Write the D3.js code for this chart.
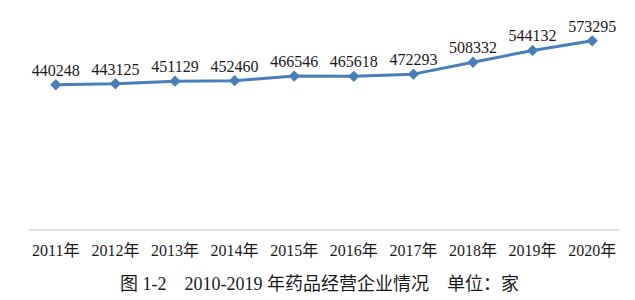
<!DOCTYPE html>
<html>
<head>
<meta charset="utf-8">
<script src="https://cdn.jsdelivr.net/npm/d3@7"></script>
<style>
  html, body { margin: 0; padding: 0; background: #fff; }
</style>
</head>
<body>
<div id="chart"></div>
<script>
// 数据
const years = ["2011年", "2012年", "2013年", "2014年", "2015年", "2016年", "2017年", "2018年", "2019年", "2020年"];
const counts = [440248, 443125, 451129, 452460, 466546, 465618, 472293, 508332, 544132, 573295];
const yDomain = [0, 700000];
const title = "图 1-2    2010-2019 年药品经营企业情况    单位：家";

const width = 635, height = 300;
const lineColor = "#4a7ebb";
const serif = "'Liberation Serif', 'Times New Roman', 'DejaVu Serif', 'Noto Sans CJK SC', serif";

const svg = d3.select("#chart").append("svg")
    .attr("width", width)
    .attr("height", height)
    .attr("font-family", serif)
    .attr("fill", "#1a1a1a");

const x = d3.scaleBand()
    .domain(years)
    .range([26, 622]);

const y = d3.scaleLinear()
    .domain(yDomain)
    .range([230, -1]);

const cx = d => x(d) + x.bandwidth() / 2;

// 横轴线
svg.append("line")
    .attr("x1", x.range()[0] + 3)
    .attr("x2", x.range()[1] - 2)
    .attr("y1", y(0))
    .attr("y2", y(0))
    .attr("stroke", "#c8c8c8")
    .attr("stroke-width", 1);

// 横轴标签
svg.append("g").selectAll("text")
    .data(years)
    .join("text")
    .attr("x", d => cx(d))
    .attr("y", 256)
    .attr("text-anchor", "middle")
    .attr("font-family", serif)
    .attr("font-size", 16)
    .text(d => d);

// 折线
const line = d3.line()
    .x((d, i) => cx(years[i]))
    .y(d => y(d));

svg.append("path")
    .datum(counts)
    .attr("d", line)
    .attr("fill", "none")
    .attr("stroke", lineColor)
    .attr("stroke-width", 3)
    .attr("stroke-linejoin", "round");

// 菱形标记
const diamond = d3.symbol().type(d3.symbolSquare).size(64);
svg.append("g").selectAll("path")
    .data(counts)
    .join("path")
    .attr("d", diamond)
    .attr("transform", (d, i) => `translate(${cx(years[i])},${y(d)}) rotate(45)`)
    .attr("fill", lineColor);

// 数据标签
svg.append("g").selectAll("text")
    .data(counts)
    .join("text")
    .attr("x", (d, i) => cx(years[i]))
    .attr("y", d => y(d) - 9)
    .attr("text-anchor", "middle")
    .attr("font-family", serif)
    .attr("font-size", 16)
    .text(d => d);

// 图题
svg.append("text")
    .attr("x", 120)
    .attr("y", 290)
    .attr("font-family", serif)
    .attr("font-size", 18)
    .style("white-space", "pre")
    .text(title);
</script>
</body>
</html>
